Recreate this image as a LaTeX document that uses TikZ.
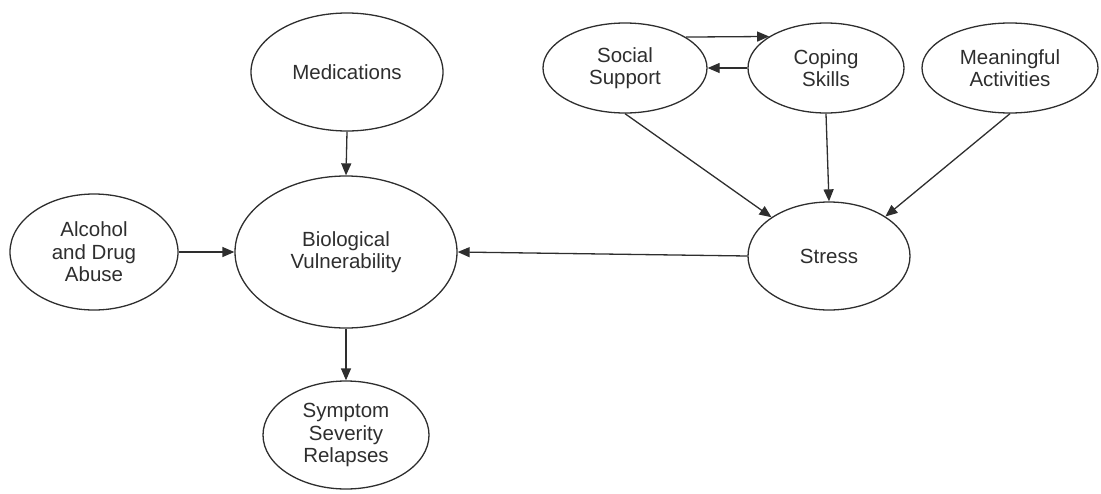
\documentclass[tikz,border=0pt]{standalone}
\usepackage{fontspec}
\setmainfont{Liberation Sans}
\usetikzlibrary{shapes.geometric,arrows.meta}
\definecolor{ink}{HTML}{2E2E2E}
\begin{document}
\begin{tikzpicture}[x=1pt,y=-1pt,
  oval/.style={draw=ink,line width=1.3pt,ellipse,inner sep=0pt,align=center,
    font=\fontsize{20.5}{22.5}\selectfont,text=ink},
  link/.style={draw=ink,line width=1.3pt,-{Triangle[length=12pt,width=10pt]}}]
\useasboundingbox (0,0) rectangle (1101,493);
\node[oval,minimum width=192pt,minimum height=118pt] (med) at (347,72) {Medications};
\node[oval,minimum width=222pt,minimum height=152pt] (bio) at (346,252) {Biological\\Vulnerability};
\node[oval,minimum width=168pt,minimum height=116pt] (alc) at (94,252) {Alcohol\\and Drug\\Abuse};
\node[oval,minimum width=166pt,minimum height=108pt] (sym) at (346,435) {Symptom\\Severity\\Relapses};
\node[oval,minimum width=164pt,minimum height=90pt] (ss) at (625,68) {Social\\Support};
\node[oval,minimum width=156pt,minimum height=90pt] (cs) at (826,68) {Coping\\Skills};
\node[oval,minimum width=176pt,minimum height=90pt] (ma) at (1010,68) {Meaningful\\Activities};
\node[oval,minimum width=162pt,minimum height=108pt] (st) at (829,256) {Stress};
\draw[link] (med.south) -- (bio.north);
\draw[link] (alc.east) -- (bio.west);
\draw[link] (bio.south) -- (sym.north);
\draw[link] (st.west) -- (bio.east);
\draw[link] (ss.27.5) -- (cs.151.3);
\draw[link] (cs.west) -- (ss.east);
\draw[link] (ss.south) -- (st.146);
\draw[link] (cs.south) -- (st.north);
\draw[link] (ma.south) -- (st.35);
\end{tikzpicture}
\end{document}
